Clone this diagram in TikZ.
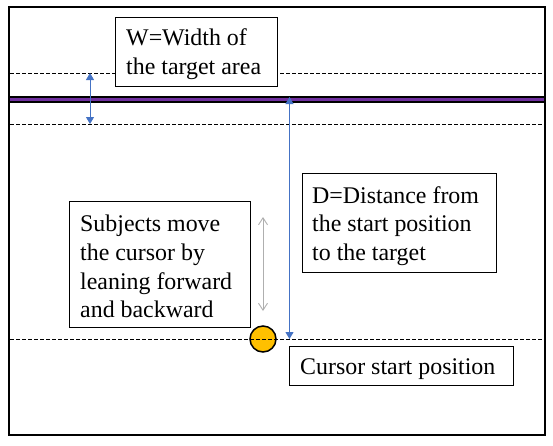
\documentclass[tikz,border=0pt]{standalone}
\usepackage{fontspec}
\setmainfont{Liberation Serif}
\usetikzlibrary{arrows.meta}
\definecolor{bluearr}{HTML}{4472C4}
\definecolor{purp}{HTML}{7030A0}
\definecolor{cursorfill}{HTML}{FFC000}
\definecolor{grayarr}{HTML}{AFAFAF}
\tikzset{
  labelbox/.style={draw=black, line width=1pt, fill=white, anchor=north west,
    inner sep=0pt},
  labeltext/.style={anchor=west, inner sep=0pt, align=left,
    font=\fontsize{23.9}{28.8}\selectfont},
  guide/.style={draw=black, line width=0.9pt, dash pattern=on 3.5pt off 2.5pt},
  bluedim/.style={draw=bluearr, line width=1pt, {Triangle[length=7pt,width=8pt]}-{Triangle[length=7pt,width=8pt]}},
  graydim/.style={draw=grayarr, line width=0.9pt, {Straight Barb[length=7pt,width=9pt]}-{Straight Barb[length=7pt,width=9pt]}},
}
\begin{document}
\begin{tikzpicture}[x=1pt,y=-1pt]
\useasboundingbox (0,0) rectangle (553,445);
% frame
\draw[line width=2pt] (9,7) rectangle (545,435);
% target line
\draw[line width=7pt] (9,99.5) -- (545,99.5);
\draw[purp, line width=3pt] (10,99.5) -- (544,99.5);
% cursor
\node[circle, draw=black, line width=1.5pt, fill=cursorfill, minimum size=26pt, inner sep=0pt] (cur) at (263,339) {};
% guides
\draw[guide] (10,73) -- (544,73);
\draw[guide] (10,124) -- (544,124);
\draw[guide] (10,339) -- (544,339);
% coordinates
\coordinate (wtop) at (90,73);
\coordinate (wbot) at (90,124);
\coordinate (dtop) at (289.5,97);
\coordinate (dbot) at (289.5,339);
\coordinate (mtop) at (263,217);
\coordinate (mbot) at (263,311);
% boxes
\node[labelbox, minimum width=162pt, minimum height=69pt] (wbox) at (115,17) {};
\node[labelbox, minimum width=194pt, minimum height=99pt] (dbox) at (302,173) {};
\node[labelbox, minimum width=181pt, minimum height=126pt] (sbox) at (69,201) {};
\node[labelbox, minimum width=224pt, minimum height=39pt] (cbox) at (289,346) {};
% texts
\node[labeltext] (wtext) at ([xshift=11pt,yshift=-2pt]wbox.west) {W=Width of\\the target area};
\node[labeltext] (dtext) at ([xshift=10pt,yshift=-3pt]dbox.west) {D=Distance from\\the start position\\to the target};
\node[labeltext] (stext) at ([xshift=11pt,yshift=-2pt]sbox.west) {Subjects move\\the cursor by\\leaning forward\\and backward};
\node[labeltext] (ctext) at ([xshift=11pt,yshift=-3pt]cbox.west) {Cursor start position};
% arrows
\draw[bluedim] (wtop) -- (wbot);
\draw[bluedim] (dtop) -- (dbot);
\draw[graydim] (mtop) -- (mbot);
\end{tikzpicture}
\end{document}
